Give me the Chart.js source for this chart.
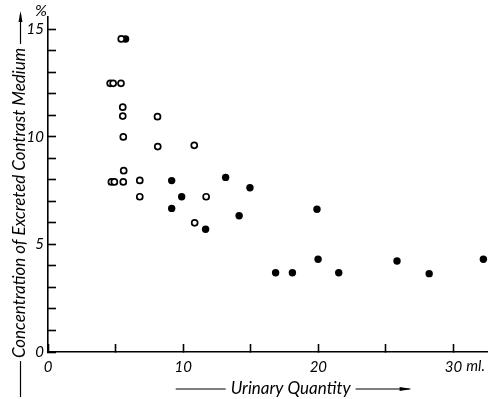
<!DOCTYPE html>
<html>
<head>
<meta charset="utf-8">
<script src="https://cdn.jsdelivr.net/npm/chart.js@4"></script>
<style>
  body { margin: 0; background: #fff; }
  canvas { display: block; }
</style>
</head>
<body>
<canvas id="chart" width="493" height="399"></canvas>
<script>
// open circles
const openX = [5.42, 4.6, 4.82, 5.4, 5.53, 5.53, 8.1, 5.57, 8.12, 10.82, 5.6, 4.69, 4.91, 5.57, 6.79, 6.79, 11.7, 10.85];
const openY = [14.54, 12.48, 12.48, 12.48, 11.37, 10.96, 10.93, 9.99, 9.54, 9.6, 8.42, 7.9, 7.9, 7.9, 7.97, 7.21, 7.21, 6.0];
// filled circles
const solidX = [5.74, 9.15, 13.14, 9.89, 9.15, 11.66, 14.14, 14.94, 19.9, 16.84, 18.08, 19.98, 21.51, 25.82, 28.2, 32.21];
const solidY = [14.54, 7.96, 8.11, 7.21, 6.67, 5.7, 6.33, 7.63, 6.63, 3.68, 3.68, 4.31, 3.68, 4.23, 3.64, 4.31];

const xTickValues = [0, 5, 10, 15, 20, 25, 30];
const xTickLabels = ['0', '', '10', '', '20', '', '30'];
const yTickValues = [0, 1, 2, 3, 4, 5, 6, 7, 8, 9, 10, 11, 12, 13, 14, 15];
const yTickLabels = ['0', '', '', '', '', '5', '', '', '', '', '10', '', '', '', '', '15'];

const xTitle = 'Urinary Quantity';
const yTitle = 'Concentration of Excreted Contrast Medium';
const ink = '#000';
const FONT = 'Lato, "Liberation Sans", sans-serif';

function toPoints(xs, ys) {
    return xs.map((v, i) => ({ x: v, y: ys[i] }));
}

function line(ctx, x1, y1, x2, y2) {
    ctx.beginPath();
    ctx.moveTo(x1, y1);
    ctx.lineTo(x2, y2);
    ctx.stroke();
}

// titles with arrows, unit mark, percent sign
const axisDecor = {
    id: 'axisDecor',
    afterDraw(chart) {
        const { ctx, chartArea: a, scales: { x } } = chart;
        ctx.save();
        ctx.strokeStyle = ink;
        ctx.fillStyle = ink;

        // unit after the last x label
        ctx.font = 'italic 15px ' + FONT;
        ctx.textBaseline = 'top';
        ctx.textAlign = 'left';
        const p30 = x.getPixelForValue(30);
        ctx.fillText('ml.', p30 + ctx.measureText('30').width / 2 + 4, a.bottom + 7);

        // percent sign above y axis
        ctx.textAlign = 'center';
        ctx.font = 'italic 16px ' + FONT;
        ctx.fillText('%', a.left - 7, 3);

        // x title
        ctx.font = 'italic 17px ' + FONT;
        ctx.textBaseline = 'middle';
        const xc = (a.left + a.right) / 2 + 23;
        const xy = 389;
        const xw = ctx.measureText(xTitle).width;
        ctx.fillText(xTitle, xc, xy);
        ctx.lineWidth = 1.2;
        line(ctx, xc - xw / 2 - 55, xy, xc - xw / 2 - 5, xy);
        line(ctx, xc + xw / 2 + 5, xy, xc + xw / 2 + 59, xy);
        ctx.beginPath();
        ctx.moveTo(xc + xw / 2 + 61, xy);
        ctx.lineTo(xc + xw / 2 + 49, xy - 2);
        ctx.lineTo(xc + xw / 2 + 49, xy + 2);
        ctx.closePath();
        ctx.fill();

        // y title
        const yc = 203;
        const yx = 20;
        ctx.save();
        ctx.translate(yx, yc);
        ctx.rotate(-Math.PI / 2);
        const yw = ctx.measureText(yTitle).width;
        ctx.fillText(yTitle, 0, 0);
        ctx.restore();
        line(ctx, yx + 0.5, yc + yw / 2 + 3, yx + 0.5, 397);
        line(ctx, yx + 0.5, yc - yw / 2 - 4, yx + 0.5, 14);
        ctx.beginPath();
        ctx.moveTo(yx + 0.5, 11);
        ctx.lineTo(yx - 1.5, 22);
        ctx.lineTo(yx + 2.5, 22);
        ctx.closePath();
        ctx.fill();

        ctx.restore();
    }
};

const tickFont = { family: FONT, size: 15, style: 'italic' };

new Chart(document.getElementById('chart').getContext('2d'), {
    type: 'scatter',
    data: {
        datasets: [{
            data: toPoints(openX, openY),
            pointRadius: 3,
            pointBorderWidth: 1.7,
            pointBorderColor: ink,
            pointBackgroundColor: '#fff',
            clip: false
        }, {
            data: toPoints(solidX, solidY),
            pointRadius: 3.7,
            pointBorderWidth: 0,
            pointBackgroundColor: ink,
            clip: false
        }]
    },
    options: {
        responsive: false,
        animation: false,
        events: [],
        layout: { padding: { top: 17, right: 0, left: 0, bottom: 0 } },
        plugins: { legend: { display: false }, tooltip: { enabled: false } },
        scales: {
            x: {
                type: 'linear',
                min: 0,
                max: 32.5,
                afterBuildTicks: s => { s.ticks = xTickValues.map(v => ({ value: v })); },
                afterFit: s => { s.height = 47; s.paddingLeft = 0; s.paddingRight = 0; },
                ticks: {
                    autoSkip: false,
                    maxRotation: 0,
                    padding: 14,
                    color: ink,
                    font: tickFont,
                    callback: v => xTickLabels[xTickValues.indexOf(v)] ?? ''
                },
                // negative tick length turns the marks inward
                grid: {
                    display: true,
                    drawOnChartArea: false,
                    drawTicks: true,
                    tickLength: -8,
                    tickWidth: 1.6,
                    tickColor: ink
                },
                border: { display: true, color: ink, width: 1.6 }
            },
            y: {
                type: 'linear',
                min: 0,
                max: 15.56,
                afterBuildTicks: s => { s.ticks = yTickValues.map(v => ({ value: v })); },
                afterFit: s => { s.width = 48; s.paddingTop = 0; s.paddingBottom = 0; },
                ticks: {
                    autoSkip: false,
                    padding: 12,
                    color: ink,
                    font: tickFont,
                    callback: v => yTickLabels[yTickValues.indexOf(v)] ?? ''
                },
                grid: {
                    display: true,
                    drawOnChartArea: false,
                    drawTicks: true,
                    tickLength: -8,
                    tickWidth: 1.6,
                    tickColor: ink
                },
                border: { display: true, color: ink, width: 1.6 }
            }
        }
    },
    plugins: [axisDecor]
});
</script>
</body>
</html>
